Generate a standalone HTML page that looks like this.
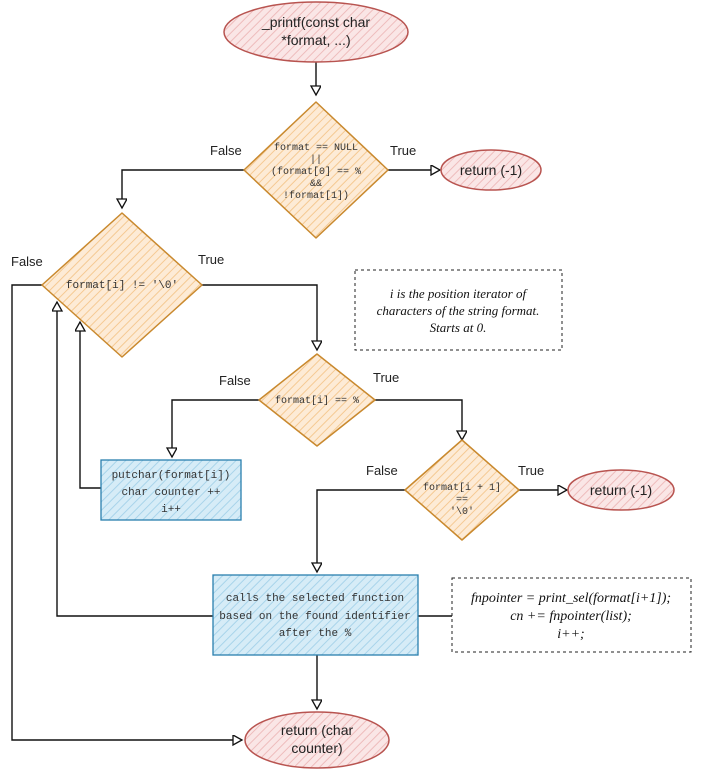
<!DOCTYPE html>
<html><head><meta charset="utf-8"><style>
html,body{margin:0;padding:0;background:#fff}
svg{display:block}
.m{font-family:"Liberation Mono",monospace;font-size:10px;fill:#333}
.b{font-family:"Liberation Mono",monospace;font-size:11px;fill:#333}
.s{font-family:"Liberation Sans",sans-serif;font-size:14px;fill:#222}
.l{font-family:"Liberation Sans",sans-serif;font-size:13px;fill:#222}
.i{font-family:"Liberation Serif",serif;font-style:italic;font-size:13px;fill:#111}
</style></head><body>
<svg width="703" height="782" viewBox="0 0 703 782" xmlns="http://www.w3.org/2000/svg">
<defs>
<pattern id="po" width="6" height="6" patternUnits="userSpaceOnUse" patternTransform="rotate(45)"><rect width="6" height="6" fill="#fdebd6"/><line x1="0" y1="0" x2="0" y2="6" stroke="#f5c992" stroke-width="2"/></pattern>
<pattern id="pp" width="6" height="6" patternUnits="userSpaceOnUse" patternTransform="rotate(45)"><rect width="6" height="6" fill="#fae6e6"/><line x1="0" y1="0" x2="0" y2="6" stroke="#eebcbc" stroke-width="2"/></pattern>
<pattern id="pb" width="6" height="6" patternUnits="userSpaceOnUse" patternTransform="rotate(45)"><rect width="6" height="6" fill="#d6ecf7"/><line x1="0" y1="0" x2="0" y2="6" stroke="#a8d4ea" stroke-width="2"/></pattern>
<marker id="a" markerWidth="12" markerHeight="12" refX="10" refY="5" orient="auto" markerUnits="userSpaceOnUse"><path d="M1,0 L10,5 L1,10 Z" fill="#fff" stroke="#111" stroke-width="1.3"/></marker>
</defs>
<g fill="none" stroke="#111" stroke-width="1.4">
<path d="M316,62 V95" marker-end="url(#a)"/>
<path d="M388,170 H440" marker-end="url(#a)"/>
<path d="M244,170 H122 V208" marker-end="url(#a)"/>
<path d="M202,285 H317 V350" marker-end="url(#a)"/>
<path d="M42,285 H12 V740 H242" marker-end="url(#a)"/>
<path d="M259,400 H172 V457" marker-end="url(#a)"/>
<path d="M375,400 H462 V440" marker-end="url(#a)"/>
<path d="M101,488 H80 V322" marker-end="url(#a)"/>
<path d="M519,490 H567" marker-end="url(#a)"/>
<path d="M405,490 H317 V572" marker-end="url(#a)"/>
<path d="M213,616 H57 V302" marker-end="url(#a)"/>
<path d="M418,616 H452"/>
<path d="M317,655 V709" marker-end="url(#a)"/>
</g>
<ellipse cx="316" cy="32" rx="92" ry="30" fill="url(#pp)" stroke="#b85450" stroke-width="1.5"/>
<text class="s" x="316" y="27" text-anchor="middle">_printf(const char</text>
<text class="s" x="316" y="45" text-anchor="middle">*format, ...)</text>
<path d="M316,102 L388,170 L316,238 L244,170 Z" fill="url(#po)" stroke="#c9892e" stroke-width="1.5" stroke-linejoin="round"/>
<text class="m" text-anchor="middle"><tspan x="316" y="150">format == NULL</tspan><tspan x="316" y="162">||</tspan><tspan x="316" y="174">(format[0] == %</tspan><tspan x="316" y="186">&amp;&amp;</tspan><tspan x="316" y="198">!format[1])</tspan></text>
<text class="l" x="210" y="155">False</text><text class="l" x="390" y="155">True</text>
<ellipse cx="491" cy="170" rx="50" ry="20" fill="url(#pp)" stroke="#b85450" stroke-width="1.5"/>
<text class="s" x="491" y="175" text-anchor="middle">return (-1)</text>
<path d="M122,213 L202,285 L122,357 L42,285 Z" fill="url(#po)" stroke="#c9892e" stroke-width="1.5" stroke-linejoin="round"/>
<text class="m" x="122" y="288" text-anchor="middle" style="font-size:11px">format[i] != '\0'</text>
<text class="l" x="11" y="266">False</text><text class="l" x="198" y="264">True</text>
<rect x="355" y="270" width="207" height="80" fill="none" stroke="#222" stroke-dasharray="3,3"/>
<text class="i" text-anchor="middle"><tspan x="458" y="298">i is the position iterator of</tspan><tspan x="458" y="315">characters of the string format.</tspan><tspan x="458" y="332">Starts at 0.</tspan></text>
<path d="M317,354 L375,400 L317,446 L259,400 Z" fill="url(#po)" stroke="#c9892e" stroke-width="1.5" stroke-linejoin="round"/>
<text class="m" x="317" y="403" text-anchor="middle">format[i] == %</text>
<text class="l" x="219" y="385">False</text><text class="l" x="373" y="382">True</text>
<rect x="101" y="460" width="140" height="60" fill="url(#pb)" stroke="#2a7fae" stroke-width="1.3"/>
<text class="b" text-anchor="middle"><tspan x="171" y="478">putchar(format[i])</tspan><tspan x="171" y="495">char counter ++</tspan><tspan x="171" y="512">i++</tspan></text>
<path d="M462,440 L519,490 L462,540 L405,490 Z" fill="url(#po)" stroke="#c9892e" stroke-width="1.5" stroke-linejoin="round"/>
<text class="m" text-anchor="middle"><tspan x="462" y="490">format[i + 1]</tspan><tspan x="462" y="502">==</tspan><tspan x="462" y="514">'\0'</tspan></text>
<text class="l" x="366" y="475">False</text><text class="l" x="518" y="475">True</text>
<ellipse cx="621" cy="490" rx="53" ry="20" fill="url(#pp)" stroke="#b85450" stroke-width="1.5"/>
<text class="s" x="621" y="495" text-anchor="middle">return (-1)</text>
<rect x="213" y="575" width="205" height="80" fill="url(#pb)" stroke="#2a7fae" stroke-width="1.3"/>
<text class="b" text-anchor="middle"><tspan x="315" y="601">calls the selected function</tspan><tspan x="315" y="619">based on the found identifier</tspan><tspan x="315" y="636">after the %</tspan></text>
<rect x="452" y="578" width="239" height="74" fill="none" stroke="#222" stroke-dasharray="3,3"/>
<text class="i" text-anchor="middle" style="font-size:14px"><tspan x="571" y="602">fnpointer = print_sel(format[i+1]);</tspan><tspan x="571" y="620">cn += fnpointer(list);</tspan><tspan x="571" y="638">i++;</tspan></text>
<ellipse cx="317" cy="740" rx="72" ry="28" fill="url(#pp)" stroke="#b85450" stroke-width="1.5"/>
<text class="s" x="317" y="735" text-anchor="middle">return (char</text>
<text class="s" x="317" y="753" text-anchor="middle">counter)</text>
</svg>
</body></html>
